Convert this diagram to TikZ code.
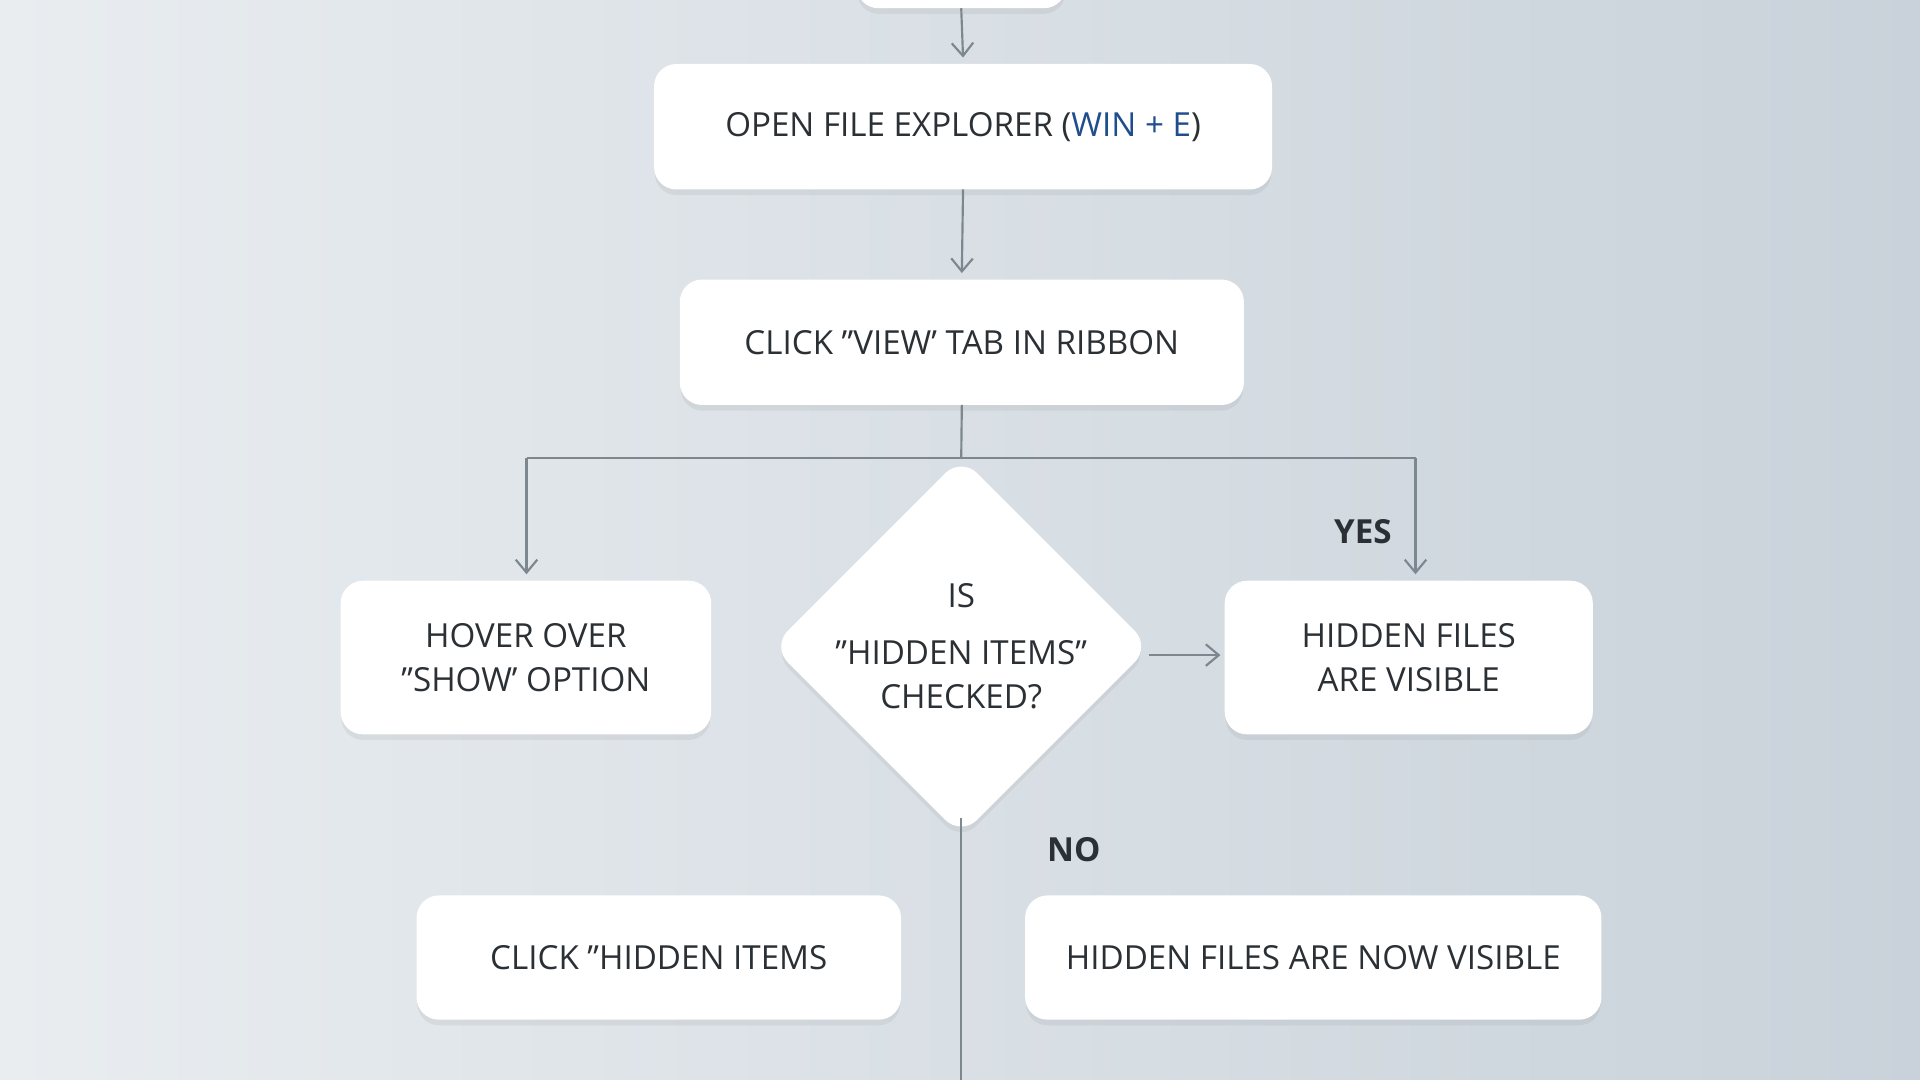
\documentclass[tikz,border=0pt]{standalone}
\usepackage{fontspec}
\setmainfont{Open Sans}
\usetikzlibrary{shapes.geometric,arrows.meta,shadows}
\definecolor{bgA}{HTML}{E9EDF0}
\definecolor{bgB}{HTML}{C9D2DA}
\definecolor{lineC}{HTML}{7D8790}
\definecolor{txtC}{HTML}{2B3035}
\definecolor{keyC}{HTML}{1F4E8C}
\newcommand\dq{\symbol{34}}
\newcommand\sq{\symbol{39}}
\tikzset{
  stage/.style={draw=white,fill=white,rounded corners=5pt,text=txtC,align=center,
    font=\fontsize{7.7}{10.2}\selectfont,inner sep=0pt,
    drop shadow={shadow xshift=0pt,shadow yshift=-1.5pt,opacity=.12}},
  ask/.style={diamond,draw=white,fill=white,rounded corners=5pt,text=txtC,align=center,
    font=\fontsize{7.7}{10.2}\selectfont,inner sep=0pt,minimum width=3.06cm,minimum height=2.66cm,
    drop shadow={shadow xshift=0pt,shadow yshift=-1.5pt,opacity=.12}},
  flow/.style={draw=lineC,line width=0.5pt,-{Straight Barb[length=3pt,width=5pt]}},
  link/.style={draw=lineC,line width=0.5pt},
  tag/.style={text=txtC,font=\fontsize{7.7}{9}\selectfont\bfseries}
}
\begin{document}
\begin{tikzpicture}[x=0.01cm,y=-0.01cm]
  \useasboundingbox (0,0) rectangle (1568,882);
  \shade[left color=bgA,right color=bgB] (0,0) rectangle (1568,882);
  % boxes
  \node[stage,minimum width=1.70cm,minimum height=1cm] (start) at (785,-44) {};
  \node[stage,minimum width=5.03cm,minimum height=1.01cm] (open) at (786.5,103.5)
    {OPEN FILE EXPLORER (\textcolor{keyC}{WIN + E})};
  \node[stage,minimum width=4.59cm,minimum height=1.01cm] (view) at (785.5,279.5)
    {CLICK \dq VIEW\sq{} TAB IN RIBBON};
  \node[stage,minimum width=3.01cm,minimum height=1.24cm] (hover) at (429.5,537)
    {HOVER OVER\\\dq SHOW\sq{} OPTION};
  \node[ask] (check) at (785,528) {IS\\[3pt]\dq HIDDEN ITEMS\dq\\CHECKED?};
  \node[stage,minimum width=2.99cm,minimum height=1.24cm] (visible) at (1150.5,537)
    {HIDDEN FILES\\ARE VISIBLE};
  \node[stage,minimum width=3.94cm,minimum height=1.00cm] (click) at (538,782)
    {CLICK \dq HIDDEN ITEMS};
  \node[stage,minimum width=4.69cm,minimum height=1.00cm] (now) at (1072.5,782)
    {HIDDEN FILES ARE NOW VISIBLE};
  % labels
  \node[tag] (yes) at (1113,434) {YES};
  \node[tag] (no) at (877,694) {NO};
  % connectors
  \coordinate (split) at (785,374);
  \coordinate (splitL) at (430,374);
  \coordinate (splitR) at (1156,374);
  \coordinate (dtop) at (785,402);
  \coordinate (dbot) at (785,668);
  \coordinate (dright) at (938,535);
  \coordinate (bottom) at (785,882);
  \draw[flow] (start.south) -- ([yshift=1.5pt]open.north);
  \draw[flow] (open.south) -- ([yshift=1.5pt]view.north);
  \draw[link] (view.south) -- (split);
  \draw[link] (splitL) -- (splitR);
  \draw[flow] (splitL) -- ([yshift=1.5pt]splitL |- hover.north);
  \draw[flow] (splitR) -- ([yshift=1.5pt]splitR |- visible.north);
  \draw[flow] (dright) -- ([xshift=-1pt]visible.west |- dright);
  \draw[link] (dbot) -- (bottom);
\end{tikzpicture}
\end{document}
